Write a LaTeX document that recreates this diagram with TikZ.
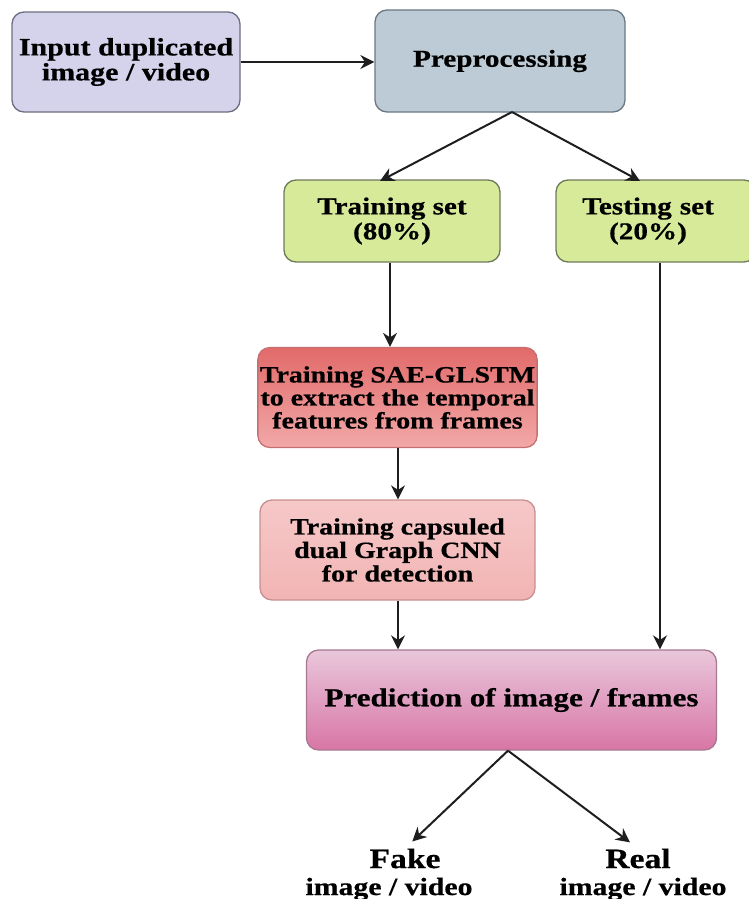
\documentclass[tikz,border=0pt]{standalone}
\usepackage{fontspec}
\setmainfont{Liberation Serif}[FakeStretch=1.2, BoldFeatures={FakeBold=0.6}]
\usetikzlibrary{arrows.meta}
\definecolor{inF}{HTML}{D5D3EB}
\definecolor{inD}{HTML}{6E6E82}
\definecolor{preF}{HTML}{BDCBD6}
\definecolor{preD}{HTML}{6A7884}
\definecolor{grF}{HTML}{D6EA9A}
\definecolor{grD}{HTML}{6E7A5A}
\definecolor{saeT}{HTML}{E26A6A}
\definecolor{saeB}{HTML}{F2A8A8}
\definecolor{saeD}{HTML}{C47070}
\definecolor{capT}{HTML}{F6C8C8}
\definecolor{capB}{HTML}{F2B4B4}
\definecolor{capD}{HTML}{C89090}
\definecolor{prT}{HTML}{E9C7DB}
\definecolor{prB}{HTML}{D876A6}
\definecolor{prD}{HTML}{A87890}
\definecolor{arrC}{HTML}{1E1E1E}
\tikzset{
  box/.style={rectangle, rounded corners=12pt, line width=1.3pt, align=center, inner sep=2pt, font=\bfseries},
  arr/.style={draw=arrC, line width=2pt, -{Stealth[length=14pt,width=14pt]}},
  lbl/.style={inner sep=0pt, font=\bfseries},
}
\begin{document}
\begin{tikzpicture}[x=1pt,y=-1pt]
\useasboundingbox (0,0) rectangle (749,899);
\node[box, fill=inF, draw=inD, minimum width=228pt, minimum height=100pt, font=\bfseries\fontsize{25}{25}\selectfont] (in) at (126,62) {Input duplicated\\image / video};
\node[box, fill=preF, draw=preD, minimum width=250pt, minimum height=102pt, font=\bfseries\fontsize{24.3}{25}\selectfont] (pre) at (500,61) {\raisebox{5pt}{Preprocessing}};
\node[box, fill=grF, draw=grD, minimum width=216pt, minimum height=82pt, font=\bfseries\fontsize{24.3}{25}\selectfont] (train) at (392,221) {Training set\\(80\%)};
\node[box, fill=grF, draw=grD, minimum width=200pt, minimum height=82pt, font=\bfseries\fontsize{24.3}{25}\selectfont, text width=184pt] (test) at (656,221) {\hspace*{-16pt}Testing set\\\hspace*{-16pt}(20\%)};
\node[box, top color=saeT, bottom color=saeB, draw=saeD, minimum width=275pt, minimum height=100pt, font=\bfseries\fontsize{23.3}{23}\selectfont] (sae) at (397.5,397.5) {Training SAE-GLSTM\\to extract the temporal\\features from frames};
\node[box, top color=capT, bottom color=capB, draw=capD, minimum width=275pt, minimum height=100pt, font=\bfseries\fontsize{23.3}{23.5}\selectfont] (cap) at (397.5,550) {Training capsuled\\dual Graph CNN\\for detection};
\node[box, top color=prT, bottom color=prB, draw=prD, minimum width=410pt, minimum height=100pt, font=\bfseries\fontsize{25.9}{28}\selectfont] (pred) at (511.5,700) {Prediction of image / frames};
\node[lbl, anchor=base, font=\bfseries\fontsize{28}{28}\selectfont] (fake1) at (405,868) {Fake};
\node[lbl, anchor=base, font=\bfseries\fontsize{24.8}{25}\selectfont] (fake2) at (389,895) {image / video};
\node[lbl, anchor=base, font=\bfseries\fontsize{28}{28}\selectfont] (real1) at (638,868) {Real};
\node[lbl, anchor=base, font=\bfseries\fontsize{24.8}{25}\selectfont] (real2) at (643,895) {image / video};
\coordinate (preS) at (512,112);
\coordinate (trainN) at (380,181);
\coordinate (testN) at (640,181);
\draw[arr] (in.east) -- (pre.west |- in.east);
\draw[arr] (preS) -- (trainN);
\draw[arr] (preS) -- (testN);
\draw[arr] (train.south -| 390,0) -- (sae.north -| 390,0);
\draw[arr] (sae.south -| 398,0) -- (cap.north -| 398,0);
\draw[arr] (cap.south -| 398,0) -- (pred.north -| 398,0);
\draw[arr] (test.south -| 660,0) -- (pred.north -| 660,0);
\draw[arr, shorten >=10pt] (pred.south -| 508,0) -- (fake1.north);
\draw[arr, shorten >=10pt] (pred.south -| 508,0) -- (real1.north);
\end{tikzpicture}
\end{document}
